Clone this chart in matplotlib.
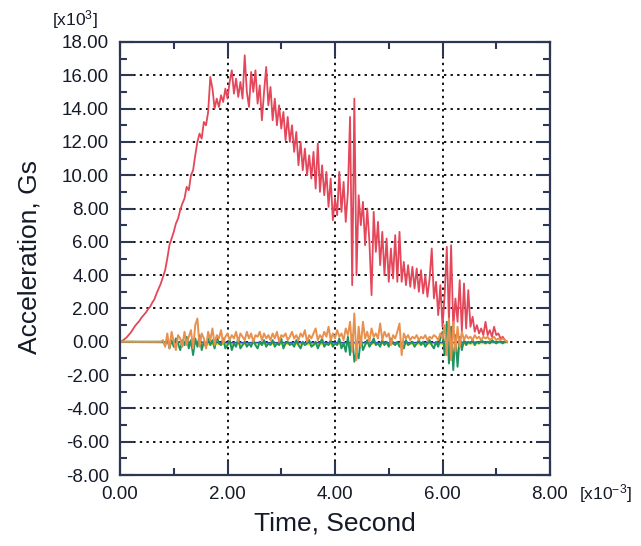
import numpy as np
import matplotlib
matplotlib.use("Agg")
import matplotlib.pyplot as plt
from matplotlib.ticker import MultipleLocator, FormatStrFormatter

plt.rcParams['font.family'] = ['Liberation Sans', 'DejaVu Sans']
plt.rcParams['mathtext.fontset'] = 'custom'
plt.rcParams['mathtext.rm'] = 'Liberation Sans'
plt.rcParams['mathtext.it'] = 'Liberation Sans'

# ---- data (time in units of 1e-3 s, acceleration in units of 1e3 G) ----
t_step = 0.04
red_vals = [
    0.0, 0.05, 0.15, 0.25, 0.4, 0.55, 0.75, 0.95, 1.1, 1.25,
    1.45, 1.6, 1.75, 1.95, 2.1, 2.35, 2.55, 2.9, 3.2, 3.5,
    3.9, 4.3, 5.0, 5.8, 6.2, 6.6, 7.1, 7.4, 7.9, 8.3,
    8.6, 9.3, 9.1, 10.0, 10.3, 11.2, 12.0, 12.5, 12.2, 13.2,
    13.0, 13.8, 15.9, 15.2, 14.0, 14.6, 14.1, 14.8, 14.4, 15.2,
    14.6, 15.6, 16.3, 14.9, 15.8, 14.7, 15.6, 14.6, 17.2, 15.0,
    14.1, 16.2, 15.0, 16.3, 14.3, 15.4, 13.3, 15.0, 16.5, 14.2,
    15.3, 13.3, 14.6, 13.0, 14.2, 12.8, 13.8, 12.1, 13.5, 12.0,
    13.0, 11.4, 12.6, 10.6, 12.0, 10.3, 11.6, 10.0, 11.2, 9.8,
    11.4, 9.2, 11.9, 9.0, 10.6, 8.8, 10.2, 8.1, 9.8, 7.3,
    8.6, 7.6, 10.2, 7.8, 9.6, 7.2, 9.0, 13.5, 3.4, 14.6,
    4.0, 8.8, 7.0, 8.4, 5.8, 8.0, 6.0, 2.8, 7.8, 5.4,
    7.2, 4.6, 6.6, 4.0, 6.2, 3.6, 5.6, 3.8, 6.4, 3.6,
    6.6, 3.6, 4.8, 3.4, 4.6, 3.3, 4.5, 3.2, 4.4, 3.0,
    4.3, 2.9, 4.0, 2.7, 3.8, 5.6, 2.6, 3.6, 1.6, 3.4,
    0.9, 2.8, 5.7, 1.2, 5.8, 0.8, 2.6, 1.2, 3.7, 0.6,
    3.5, 0.8, 3.1, 0.9, 1.5, 0.6, 1.0, 0.5, 0.8, 0.4,
    1.2, 0.4, 0.7, 0.3, 0.9, 0.4, 0.5, 0.2, 0.3, 0.1,
    0.0,
]
orange_vals = [0.0] * 20 + [
    0.1, -0.3, 0.5, -0.4, 0.6, 0.0, -0.5, 0.4, 0.2, -0.3,
    0.6, -0.2, 0.3, 0.7, -0.4, 1.0, 1.4, -0.3, 0.5, 0.2,
    -0.4, 0.6, 0.1, 0.8, -0.2, 0.4, 0.2, 0.7, -0.1, 0.3,
    0.5, 0.1, 0.4, 0.2, 0.6, 0.0, 0.5, 0.3, 0.1, 0.6,
    0.2, 0.5, 0.0, 0.4, 0.3, 0.6, 0.1, 0.5, 0.2, 0.4,
    0.1, 0.5, 0.2, 0.6, 0.0, 0.4, 0.3, 0.5, 0.1, 0.3,
    0.6, 0.2, 0.4, 0.1, 0.5, 0.3, 0.7, 0.0, 0.4, 0.2,
    0.5, 0.8, 0.1, 0.4, 0.2, 0.6, 0.3, 0.9, 0.1, 0.5,
    0.2, 0.7, 0.3, 0.5, 0.1, 0.8, 0.4, 1.2, -0.6, 1.7,
    -1.1, 0.9, -0.3, 1.2, 0.2, 0.6, 0.0, 0.8, 0.3, 0.5,
    0.2, 1.1, 0.1, 0.6, 0.3, 0.5, -0.2, 0.4, 0.2, 0.6,
    1.1, -0.8, 0.5, 0.2, 0.4, 0.1, 0.3, 0.2, 0.4, 0.1,
    0.3, 0.2, 0.4, 0.1, 0.3, 0.2, 0.4, 0.3, 0.1, 0.5,
    0.2, 1.0, -0.8, 1.4, -1.1, 1.2, -0.6, 0.9, -0.3, 0.6,
    0.1, 0.4, 0.2, 0.3, 0.1, 0.4, 0.2, 0.3, 0.1, 0.3,
    0.2, 0.3, 0.1, 0.2, 0.3, 0.1, 0.2, 0.1, 0.2, 0.1,
    0.0,
]
green_vals = [0.0] * 20 + [
    0.0, -0.2, 0.2, -0.4, 0.1, -0.3, 0.2, -0.1, -0.5, 0.1,
    -0.2, 0.3, -0.4, 0.1, -0.8, 0.2, -0.3, 0.4, -0.5, 0.0,
    -0.3, 0.2, -0.2, 0.1, -0.4, 0.3, -0.1, -0.2, 0.2, -0.4,
    -0.2, 0.1, -0.5, -0.1, -0.3, 0.2, -0.4, -0.2, 0.0, -0.3,
    -0.1, -0.3, 0.1, -0.2, -0.4, 0.0, -0.2, 0.1, -0.3, -0.1,
    -0.2, 0.1, -0.3, -0.1, -0.2, 0.2, -0.4, -0.1, 0.0, -0.2,
    -0.1, -0.3, 0.1, -0.2, -0.4, 0.0, -0.2, -0.1, 0.1, -0.3,
    -0.2, 0.0, -0.4, -0.1, 0.2, -0.3, -0.1, -0.2, 0.1, -0.3,
    -0.1, -0.2, 0.2, -0.4, -0.1, -0.6, 0.3, -0.8, 0.4, -1.2,
    -0.6, -1.0, 0.2, -0.5, -0.2, 0.1, -0.3, -0.1, 0.2, -0.2,
    -0.1, -0.3, 0.1, -0.2, 0.0, -0.3, 0.2, -0.1, -0.2, 0.0,
    -0.3, -0.1, -0.4, 0.1, -0.2, -0.1, 0.0, -0.3, -0.1, 0.1,
    -0.2, 0.0, -0.3, -0.1, 0.1, -0.2, -0.4, 0.0, -0.3, 0.2,
    0.6, -0.8, 1.2, -1.3, 0.9, -1.7, 0.4, -1.5, 0.3, -0.5,
    0.1, -0.2, 0.0, -0.1, 0.1, -0.2, 0.0, -0.1, 0.1, 0.0,
    -0.1, 0.0, -0.1, 0.1, 0.0, -0.1, 0.0, 0.0, -0.1, 0.0,
    0.0,
]
yellow_t = [0.0, 0.8, 1.5, 2.5, 3.5, 4.5, 5.5, 6.5, 7.2]
yellow_vals = [0.0, -0.05, -0.15, -0.1, -0.15, -0.1, -0.12, -0.1, -0.05]
blue_t = [0.0, 0.8, 2.0, 4.0, 6.0, 7.2]
blue_vals = [0.0, 0.0, -0.05, -0.05, -0.05, 0.0]

x_ticks = [0, 2, 4, 6, 8]
y_ticks = list(range(-8, 19, 2))

t = np.arange(len(red_vals)) * t_step

# ---- figure ----
fig = plt.figure(figsize=(6.41, 5.46), dpi=100)
ax = fig.add_axes([120/641, 1 - 475/546, 430/641, 433/546])

ax.plot(t, red_vals, color='#e4475a', lw=1.3, zorder=3)
ax.plot(yellow_t, yellow_vals, color='#efe020', lw=1.6, zorder=4)
ax.plot(blue_t, blue_vals, color='#3a48c0', lw=1.1, zorder=4)
ax.plot(t, green_vals, color='#1d9560', lw=1.4, zorder=5)
ax.plot(t, orange_vals, color='#e8904e', lw=1.4, zorder=6)

ax.set_xlim(0, 8)
ax.set_ylim(-8, 18)
ax.set_xticks(x_ticks)
ax.set_yticks(y_ticks)
ax.xaxis.set_minor_locator(MultipleLocator(1))
ax.yaxis.set_minor_locator(MultipleLocator(1))
ax.xaxis.set_major_formatter(FormatStrFormatter('%.2f'))
ax.yaxis.set_major_formatter(FormatStrFormatter('%.2f'))

axcol = '#2d3753'
txtcol = '#151a28'
for s in ax.spines.values():
    s.set_color(axcol)
    s.set_linewidth(1.6)
    s.set_zorder(10)
ax.tick_params(which='both', direction='in', top=True, right=True,
               color=axcol, width=1.5, labelsize=13.5, labelcolor=txtcol, pad=8)
ax.tick_params(which='major', length=10)
ax.tick_params(which='minor', length=5)

ax.grid(True, which='major', color='#111111', linestyle=(0, (1.2, 2.2)), linewidth=1.4, zorder=1)
ax.set_axisbelow(True)

fig.text(30/641, 1 - 257/546, 'Acceleration, Gs', rotation=90, ha='center', va='center',
         fontsize=19, color=txtcol)
fig.text(335/641, 1 - 523/546, 'Time, Second', ha='center', va='center',
         fontsize=19, color=txtcol)
fig.text(75/641, 1 - 20/546, r'[x10$^{3}$]', ha='center', va='center', fontsize=12.5, color=txtcol)
fig.text(605/641, 1 - 494/546, r'[x10$^{-3}$]', ha='center', va='center', fontsize=12.5, color=txtcol)

fig.savefig('out.png', dpi=100)
